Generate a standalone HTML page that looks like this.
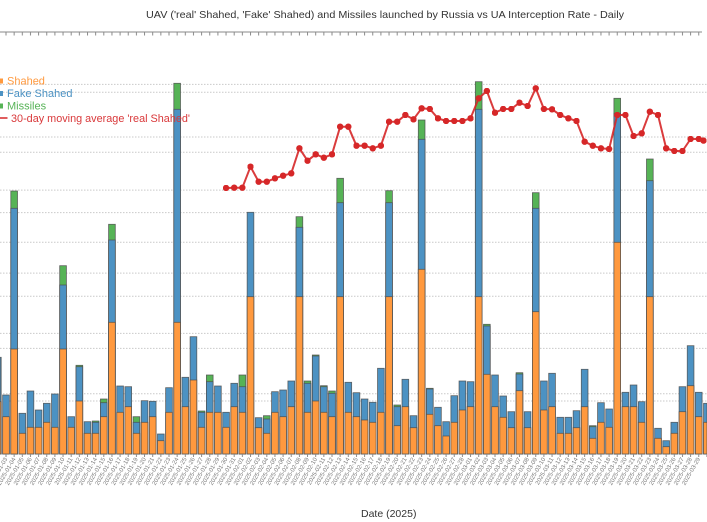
<!DOCTYPE html>
<html><head><meta charset="utf-8"><style>
html,body{margin:0;padding:0;background:#fff;width:707px;height:522px;overflow:hidden}
svg{display:block}
text{font-family:"Liberation Sans",Arial,sans-serif}
.o{fill:#ff993e}.b{fill:#4c92c3}.g{fill:#56b356}
.bars rect{stroke:#4d4d4d;stroke-width:.8;stroke-opacity:.85}
.lbl text{font-size:6px;fill:#7a7a7a;text-anchor:end}
</style></head><body>
<svg width="707" height="522" viewBox="0 0 707 522" xmlns="http://www.w3.org/2000/svg">
<defs>
<pattern id="tk" x="5.5" y="0" width="8.15" height="10" patternUnits="userSpaceOnUse"><rect x="0" y="0" width="1" height="10" fill="#8a8a8a"/></pattern>
<marker id="dot" viewBox="0 0 10 10" refX="5" refY="5" markerWidth="6.4" markerHeight="6.4" markerUnits="userSpaceOnUse"><circle cx="5" cy="5" r="5" fill="#d62728"/></marker>
</defs>

<text x="146" y="18" font-size="10.5" fill="#333" textLength="478" lengthAdjust="spacingAndGlyphs">UAV ('real' Shahed, 'Fake' Shahed) and Missiles launched by Russia vs UA Interception Rate - Daily</text>

<line x1="0" y1="32" x2="702" y2="32" stroke="#8a8a8a" stroke-width="1"/>
<rect x="0" y="32" width="702" height="3.5" fill="url(#tk)"/>

<g stroke="#c9c9c9" stroke-width="1" stroke-dasharray="1.5 1.5">
<line x1="0" x2="707" y1="393.7" y2="393.7"/>
<line x1="0" x2="707" y1="333.4" y2="333.4"/>
<line x1="0" x2="707" y1="273.1" y2="273.1"/>
<line x1="0" x2="707" y1="212.6" y2="212.6"/>
<line x1="0" x2="707" y1="152.2" y2="152.2"/>
<line x1="0" x2="707" y1="92.3" y2="92.3"/>
<line x1="0" x2="707" y1="401" y2="401"/>
<line x1="0" x2="707" y1="348.4" y2="348.4"/>
<line x1="0" x2="707" y1="296.2" y2="296.2"/>
<line x1="0" x2="707" y1="242.3" y2="242.3"/>
<line x1="0" x2="707" y1="190.1" y2="190.1"/>
<line x1="0" x2="707" y1="137" y2="137"/>
<line x1="0" x2="707" y1="84.4" y2="84.4"/>
</g>

<g class="bars">
<rect class="b" x="0" y="357.3" width="1.2" height="96.7"/><rect class="o" x="0" y="401.7" width="1.2" height="52.3"/>
<rect class="b" x="2.65" y="395" width="6.7" height="59"/><rect class="o" x="2.65" y="416.7" width="6.7" height="37.3"/>
<rect class="g" x="10.8" y="191" width="6.7" height="263"/><rect class="b" x="10.8" y="208.3" width="6.7" height="245.7"/><rect class="o" x="10.8" y="349" width="6.7" height="105"/>
<rect class="b" x="18.95" y="413.3" width="6.7" height="40.7"/><rect class="o" x="18.95" y="433.3" width="6.7" height="20.7"/>
<rect class="b" x="27.1" y="391" width="6.7" height="63"/><rect class="o" x="27.1" y="427.3" width="6.7" height="26.7"/>
<rect class="b" x="35.25" y="410" width="6.7" height="44"/><rect class="o" x="35.25" y="427.3" width="6.7" height="26.7"/>
<rect class="b" x="43.4" y="403.3" width="6.7" height="50.7"/><rect class="o" x="43.4" y="422.3" width="6.7" height="31.7"/>
<rect class="b" x="51.55" y="394" width="6.7" height="60"/><rect class="o" x="51.55" y="427.3" width="6.7" height="26.7"/>
<rect class="g" x="59.7" y="265.7" width="6.7" height="188.3"/><rect class="b" x="59.7" y="285" width="6.7" height="169"/><rect class="o" x="59.7" y="349" width="6.7" height="105"/>
<rect class="b" x="67.85" y="416.7" width="6.7" height="37.3"/><rect class="o" x="67.85" y="427.3" width="6.7" height="26.7"/>
<rect class="g" x="76" y="365.3" width="6.7" height="88.7"/><rect class="b" x="76" y="366.7" width="6.7" height="87.3"/><rect class="o" x="76" y="401" width="6.7" height="53"/>
<rect class="b" x="84.15" y="421.7" width="6.7" height="32.3"/><rect class="o" x="84.15" y="433.3" width="6.7" height="20.7"/>
<rect class="g" x="92.3" y="421" width="6.7" height="33"/><rect class="b" x="92.3" y="422.3" width="6.7" height="31.7"/><rect class="o" x="92.3" y="433.3" width="6.7" height="20.7"/>
<rect class="g" x="100.45" y="399" width="6.7" height="55"/><rect class="b" x="100.45" y="402.7" width="6.7" height="51.3"/><rect class="o" x="100.45" y="416.7" width="6.7" height="37.3"/>
<rect class="g" x="108.6" y="224.3" width="6.7" height="229.7"/><rect class="b" x="108.6" y="240" width="6.7" height="214"/><rect class="o" x="108.6" y="322.3" width="6.7" height="131.7"/>
<rect class="b" x="116.75" y="386" width="6.7" height="68"/><rect class="o" x="116.75" y="412.3" width="6.7" height="41.7"/>
<rect class="b" x="124.9" y="386.7" width="6.7" height="67.3"/><rect class="o" x="124.9" y="406.7" width="6.7" height="47.3"/>
<rect class="g" x="133.05" y="416.7" width="6.7" height="37.3"/><rect class="b" x="133.05" y="422.3" width="6.7" height="31.7"/><rect class="o" x="133.05" y="433.3" width="6.7" height="20.7"/>
<rect class="b" x="141.2" y="400.7" width="6.7" height="53.3"/><rect class="o" x="141.2" y="422.3" width="6.7" height="31.7"/>
<rect class="b" x="149.35" y="401.3" width="6.7" height="52.7"/><rect class="o" x="149.35" y="416.7" width="6.7" height="37.3"/>
<rect class="b" x="157.5" y="434" width="6.7" height="20"/><rect class="o" x="157.5" y="440.7" width="6.7" height="13.3"/>
<rect class="b" x="165.65" y="387.7" width="6.7" height="66.3"/><rect class="o" x="165.65" y="412.3" width="6.7" height="41.7"/>
<rect class="g" x="173.8" y="83.3" width="6.7" height="370.7"/><rect class="b" x="173.8" y="109.3" width="6.7" height="344.7"/><rect class="o" x="173.8" y="322.3" width="6.7" height="131.7"/>
<rect class="b" x="181.95" y="377.3" width="6.7" height="76.7"/><rect class="o" x="181.95" y="406.7" width="6.7" height="47.3"/>
<rect class="b" x="190.1" y="336.7" width="6.7" height="117.3"/><rect class="o" x="190.1" y="380" width="6.7" height="74"/>
<rect class="g" x="198.25" y="411" width="6.7" height="43"/><rect class="b" x="198.25" y="412.3" width="6.7" height="41.7"/><rect class="o" x="198.25" y="427.3" width="6.7" height="26.7"/>
<rect class="g" x="206.4" y="375" width="6.7" height="79"/><rect class="b" x="206.4" y="381.7" width="6.7" height="72.3"/><rect class="o" x="206.4" y="412.3" width="6.7" height="41.7"/>
<rect class="b" x="214.55" y="386" width="6.7" height="68"/><rect class="o" x="214.55" y="412.3" width="6.7" height="41.7"/>
<rect class="b" x="222.7" y="412.3" width="6.7" height="41.7"/><rect class="o" x="222.7" y="427.3" width="6.7" height="26.7"/>
<rect class="b" x="230.85" y="383.3" width="6.7" height="70.7"/><rect class="o" x="230.85" y="406.7" width="6.7" height="47.3"/>
<rect class="g" x="239" y="375" width="6.7" height="79"/><rect class="b" x="239" y="386.7" width="6.7" height="67.3"/><rect class="o" x="239" y="412.3" width="6.7" height="41.7"/>
<rect class="b" x="247.15" y="212.3" width="6.7" height="241.7"/><rect class="o" x="247.15" y="296.7" width="6.7" height="157.3"/>
<rect class="b" x="255.3" y="417.7" width="6.7" height="36.3"/><rect class="o" x="255.3" y="427.7" width="6.7" height="26.3"/>
<rect class="g" x="263.45" y="415.7" width="6.7" height="38.3"/><rect class="b" x="263.45" y="419" width="6.7" height="35"/><rect class="o" x="263.45" y="433.3" width="6.7" height="20.7"/>
<rect class="b" x="271.6" y="391.7" width="6.7" height="62.3"/><rect class="o" x="271.6" y="412.3" width="6.7" height="41.7"/>
<rect class="b" x="279.75" y="390" width="6.7" height="64"/><rect class="o" x="279.75" y="416.7" width="6.7" height="37.3"/>
<rect class="b" x="287.9" y="381" width="6.7" height="73"/><rect class="o" x="287.9" y="406.7" width="6.7" height="47.3"/>
<rect class="g" x="296.05" y="216.7" width="6.7" height="237.3"/><rect class="b" x="296.05" y="227.3" width="6.7" height="226.7"/><rect class="o" x="296.05" y="296.7" width="6.7" height="157.3"/>
<rect class="g" x="304.2" y="381" width="6.7" height="73"/><rect class="b" x="304.2" y="383.3" width="6.7" height="70.7"/><rect class="o" x="304.2" y="412.3" width="6.7" height="41.7"/>
<rect class="g" x="312.35" y="355" width="6.7" height="99"/><rect class="b" x="312.35" y="356" width="6.7" height="98"/><rect class="o" x="312.35" y="401" width="6.7" height="53"/>
<rect class="g" x="320.5" y="385.7" width="6.7" height="68.3"/><rect class="b" x="320.5" y="386.7" width="6.7" height="67.3"/><rect class="o" x="320.5" y="412.3" width="6.7" height="41.7"/>
<rect class="g" x="328.65" y="391" width="6.7" height="63"/><rect class="b" x="328.65" y="393.3" width="6.7" height="60.7"/><rect class="o" x="328.65" y="416.7" width="6.7" height="37.3"/>
<rect class="g" x="336.8" y="178.3" width="6.7" height="275.7"/><rect class="b" x="336.8" y="202.7" width="6.7" height="251.3"/><rect class="o" x="336.8" y="296.7" width="6.7" height="157.3"/>
<rect class="b" x="344.95" y="382.3" width="6.7" height="71.7"/><rect class="o" x="344.95" y="412.3" width="6.7" height="41.7"/>
<rect class="b" x="353.1" y="392.7" width="6.7" height="61.3"/><rect class="o" x="353.1" y="416.7" width="6.7" height="37.3"/>
<rect class="b" x="361.25" y="399" width="6.7" height="55"/><rect class="o" x="361.25" y="420" width="6.7" height="34"/>
<rect class="b" x="369.4" y="402.3" width="6.7" height="51.7"/><rect class="o" x="369.4" y="422.3" width="6.7" height="31.7"/>
<rect class="b" x="377.55" y="368.3" width="6.7" height="85.7"/><rect class="o" x="377.55" y="412.3" width="6.7" height="41.7"/>
<rect class="g" x="385.7" y="190.7" width="6.7" height="263.3"/><rect class="b" x="385.7" y="202.7" width="6.7" height="251.3"/><rect class="o" x="385.7" y="296.7" width="6.7" height="157.3"/>
<rect class="g" x="393.85" y="405" width="6.7" height="49"/><rect class="b" x="393.85" y="406.7" width="6.7" height="47.3"/><rect class="o" x="393.85" y="425.7" width="6.7" height="28.3"/>
<rect class="b" x="402" y="379.3" width="6.7" height="74.7"/><rect class="o" x="402" y="406.7" width="6.7" height="47.3"/>
<rect class="b" x="410.15" y="415.7" width="6.7" height="38.3"/><rect class="o" x="410.15" y="427.7" width="6.7" height="26.3"/>
<rect class="g" x="418.3" y="120" width="6.7" height="334"/><rect class="b" x="418.3" y="139.3" width="6.7" height="314.7"/><rect class="o" x="418.3" y="269.3" width="6.7" height="184.7"/>
<rect class="g" x="426.45" y="388.3" width="6.7" height="65.7"/><rect class="b" x="426.45" y="389" width="6.7" height="65"/><rect class="o" x="426.45" y="414.3" width="6.7" height="39.7"/>
<rect class="b" x="434.6" y="407.3" width="6.7" height="46.7"/><rect class="o" x="434.6" y="425.7" width="6.7" height="28.3"/>
<rect class="b" x="442.75" y="421.7" width="6.7" height="32.3"/><rect class="o" x="442.75" y="436" width="6.7" height="18"/>
<rect class="b" x="450.9" y="395.7" width="6.7" height="58.3"/><rect class="o" x="450.9" y="422.3" width="6.7" height="31.7"/>
<rect class="b" x="459.05" y="381" width="6.7" height="73"/><rect class="o" x="459.05" y="410" width="6.7" height="44"/>
<rect class="b" x="467.2" y="381.7" width="6.7" height="72.3"/><rect class="o" x="467.2" y="406.7" width="6.7" height="47.3"/>
<rect class="g" x="475.35" y="81.7" width="6.7" height="372.3"/><rect class="b" x="475.35" y="109.3" width="6.7" height="344.7"/><rect class="o" x="475.35" y="296.7" width="6.7" height="157.3"/>
<rect class="g" x="483.5" y="324.3" width="6.7" height="129.7"/><rect class="b" x="483.5" y="326" width="6.7" height="128"/><rect class="o" x="483.5" y="374.3" width="6.7" height="79.7"/>
<rect class="b" x="491.65" y="375" width="6.7" height="79"/><rect class="o" x="491.65" y="406.7" width="6.7" height="47.3"/>
<rect class="b" x="499.8" y="396" width="6.7" height="58"/><rect class="o" x="499.8" y="417.3" width="6.7" height="36.7"/>
<rect class="b" x="507.95" y="411.7" width="6.7" height="42.3"/><rect class="o" x="507.95" y="427.7" width="6.7" height="26.3"/>
<rect class="g" x="516.1" y="372.7" width="6.7" height="81.3"/><rect class="b" x="516.1" y="374" width="6.7" height="80"/><rect class="o" x="516.1" y="390.7" width="6.7" height="63.3"/>
<rect class="b" x="524.25" y="411.7" width="6.7" height="42.3"/><rect class="o" x="524.25" y="427.7" width="6.7" height="26.3"/>
<rect class="g" x="532.4" y="192.7" width="6.7" height="261.3"/><rect class="b" x="532.4" y="208.3" width="6.7" height="245.7"/><rect class="o" x="532.4" y="311.7" width="6.7" height="142.3"/>
<rect class="b" x="540.55" y="381" width="6.7" height="73"/><rect class="o" x="540.55" y="410" width="6.7" height="44"/>
<rect class="b" x="548.7" y="373.3" width="6.7" height="80.7"/><rect class="o" x="548.7" y="406.7" width="6.7" height="47.3"/>
<rect class="b" x="556.85" y="417.3" width="6.7" height="36.7"/><rect class="o" x="556.85" y="433.3" width="6.7" height="20.7"/>
<rect class="b" x="565" y="417.3" width="6.7" height="36.7"/><rect class="o" x="565" y="433.3" width="6.7" height="20.7"/>
<rect class="b" x="573.15" y="410.7" width="6.7" height="43.3"/><rect class="o" x="573.15" y="427.7" width="6.7" height="26.3"/>
<rect class="b" x="581.3" y="369.3" width="6.7" height="84.7"/><rect class="o" x="581.3" y="406.7" width="6.7" height="47.3"/>
<rect class="g" x="589.45" y="425.7" width="6.7" height="28.3"/><rect class="b" x="589.45" y="426.7" width="6.7" height="27.3"/><rect class="o" x="589.45" y="438.3" width="6.7" height="15.7"/>
<rect class="b" x="597.6" y="402.7" width="6.7" height="51.3"/><rect class="o" x="597.6" y="422.3" width="6.7" height="31.7"/>
<rect class="b" x="605.75" y="409" width="6.7" height="45"/><rect class="o" x="605.75" y="427.3" width="6.7" height="26.7"/>
<rect class="g" x="613.9" y="98.3" width="6.7" height="355.7"/><rect class="b" x="613.9" y="113.3" width="6.7" height="340.7"/><rect class="o" x="613.9" y="242.3" width="6.7" height="211.7"/>
<rect class="b" x="622.05" y="392.3" width="6.7" height="61.7"/><rect class="o" x="622.05" y="406.7" width="6.7" height="47.3"/>
<rect class="b" x="630.2" y="385" width="6.7" height="69"/><rect class="o" x="630.2" y="406.7" width="6.7" height="47.3"/>
<rect class="b" x="638.35" y="401.7" width="6.7" height="52.3"/><rect class="o" x="638.35" y="422.3" width="6.7" height="31.7"/>
<rect class="g" x="646.5" y="159" width="6.7" height="295"/><rect class="b" x="646.5" y="180.7" width="6.7" height="273.3"/><rect class="o" x="646.5" y="296.7" width="6.7" height="157.3"/>
<rect class="b" x="654.65" y="428.3" width="6.7" height="25.7"/><rect class="o" x="654.65" y="438.3" width="6.7" height="15.7"/>
<rect class="b" x="662.8" y="440.7" width="6.7" height="13.3"/><rect class="o" x="662.8" y="446.7" width="6.7" height="7.3"/>
<rect class="b" x="670.95" y="422.3" width="6.7" height="31.7"/><rect class="o" x="670.95" y="433.3" width="6.7" height="20.7"/>
<rect class="b" x="679.1" y="386.7" width="6.7" height="67.3"/><rect class="o" x="679.1" y="411.7" width="6.7" height="42.3"/>
<rect class="b" x="687.25" y="345.7" width="6.7" height="108.3"/><rect class="o" x="687.25" y="385.7" width="6.7" height="68.3"/>
<rect class="b" x="695.4" y="392.3" width="6.7" height="61.7"/><rect class="o" x="695.4" y="416.7" width="6.7" height="37.3"/>
<rect class="b" x="703.55" y="403.3" width="3.45" height="50.7"/><rect class="o" x="703.55" y="422.3" width="3.45" height="31.7"/>
</g>

<rect x="0" y="454" width="707" height="3" fill="url(#tk)"/>

<polyline fill="none" stroke="#d62728" stroke-width="2" stroke-opacity="0.9" stroke-linejoin="round" marker-start="url(#dot)" marker-mid="url(#dot)" marker-end="url(#dot)"
points="226.05,188 234.2,187.7 242.35,187.7 250.5,166.7 258.65,181.7 266.8,181.7 274.95,178.3 283.1,175.7 291.25,173.3 299.4,148.3 307.55,160.7 315.7,154.3 323.85,157.7 332,154.3 340.15,126.7 348.3,126.7 356.45,145.7 364.6,145.7 372.75,148.3 380.9,145.7 389.05,121.7 397.2,121.7 405.35,115 413.5,119.3 421.65,108.3 429.8,109 437.95,118.3 446.1,121 454.25,121 462.4,121 470.55,118.3 478.7,98.3 486.85,91 495,112.7 503.15,109 511.3,109 519.45,102.7 527.6,106 535.75,88.3 543.9,109 552.05,109.3 560.2,115 568.35,118.3 576.5,121 584.65,141.7 592.8,145.7 600.95,148.3 609.1,149 617.25,115 625.4,115 633.55,136 641.7,133.3 649.85,111.7 658,115 666.15,148.3 674.3,151 682.45,151 690.6,139 698.75,139 703.5,140.6"/>

<rect x="0" y="78.5" width="3" height="5" fill="#ff993e"/>
<text x="7" y="84.5" font-size="11" fill="#ff993e">Shahed</text>
<rect x="0" y="91" width="3" height="5" fill="#4c92c3"/>
<text x="7" y="97" font-size="11" fill="#4c92c3">Fake Shahed</text>
<rect x="0" y="103.5" width="3" height="5" fill="#56b356"/>
<text x="7" y="109.5" font-size="11" fill="#56b356">Missiles</text>
<line x1="0" y1="118" x2="7.5" y2="118" stroke="#d62728" stroke-width="1.5"/>
<text x="11" y="122" font-size="11" fill="#d9383a" textLength="179" lengthAdjust="spacingAndGlyphs">30-day moving average 'real Shahed'</text>

<g class="lbl">
<text transform="translate(7.6,459) rotate(-60)">2025-01-03</text>
<text transform="translate(15.75,459) rotate(-60)">2025-01-04</text>
<text transform="translate(23.9,459) rotate(-60)">2025-01-05</text>
<text transform="translate(32.05,459) rotate(-60)">2025-01-06</text>
<text transform="translate(40.2,459) rotate(-60)">2025-01-07</text>
<text transform="translate(48.35,459) rotate(-60)">2025-01-08</text>
<text transform="translate(56.5,459) rotate(-60)">2025-01-09</text>
<text transform="translate(64.65,459) rotate(-60)">2025-01-10</text>
<text transform="translate(72.8,459) rotate(-60)">2025-01-11</text>
<text transform="translate(80.95,459) rotate(-60)">2025-01-12</text>
<text transform="translate(89.1,459) rotate(-60)">2025-01-13</text>
<text transform="translate(97.25,459) rotate(-60)">2025-01-14</text>
<text transform="translate(105.4,459) rotate(-60)">2025-01-15</text>
<text transform="translate(113.55,459) rotate(-60)">2025-01-16</text>
<text transform="translate(121.7,459) rotate(-60)">2025-01-17</text>
<text transform="translate(129.85,459) rotate(-60)">2025-01-18</text>
<text transform="translate(138,459) rotate(-60)">2025-01-19</text>
<text transform="translate(146.15,459) rotate(-60)">2025-01-20</text>
<text transform="translate(154.3,459) rotate(-60)">2025-01-21</text>
<text transform="translate(162.45,459) rotate(-60)">2025-01-22</text>
<text transform="translate(170.6,459) rotate(-60)">2025-01-23</text>
<text transform="translate(178.75,459) rotate(-60)">2025-01-24</text>
<text transform="translate(186.9,459) rotate(-60)">2025-01-25</text>
<text transform="translate(195.05,459) rotate(-60)">2025-01-26</text>
<text transform="translate(203.2,459) rotate(-60)">2025-01-27</text>
<text transform="translate(211.35,459) rotate(-60)">2025-01-28</text>
<text transform="translate(219.5,459) rotate(-60)">2025-01-29</text>
<text transform="translate(227.65,459) rotate(-60)">2025-01-30</text>
<text transform="translate(235.8,459) rotate(-60)">2025-01-31</text>
<text transform="translate(243.95,459) rotate(-60)">2025-02-01</text>
<text transform="translate(252.1,459) rotate(-60)">2025-02-02</text>
<text transform="translate(260.25,459) rotate(-60)">2025-02-03</text>
<text transform="translate(268.4,459) rotate(-60)">2025-02-04</text>
<text transform="translate(276.55,459) rotate(-60)">2025-02-05</text>
<text transform="translate(284.7,459) rotate(-60)">2025-02-06</text>
<text transform="translate(292.85,459) rotate(-60)">2025-02-07</text>
<text transform="translate(301,459) rotate(-60)">2025-02-08</text>
<text transform="translate(309.15,459) rotate(-60)">2025-02-09</text>
<text transform="translate(317.3,459) rotate(-60)">2025-02-10</text>
<text transform="translate(325.45,459) rotate(-60)">2025-02-11</text>
<text transform="translate(333.6,459) rotate(-60)">2025-02-12</text>
<text transform="translate(341.75,459) rotate(-60)">2025-02-13</text>
<text transform="translate(349.9,459) rotate(-60)">2025-02-14</text>
<text transform="translate(358.05,459) rotate(-60)">2025-02-15</text>
<text transform="translate(366.2,459) rotate(-60)">2025-02-16</text>
<text transform="translate(374.35,459) rotate(-60)">2025-02-17</text>
<text transform="translate(382.5,459) rotate(-60)">2025-02-18</text>
<text transform="translate(390.65,459) rotate(-60)">2025-02-19</text>
<text transform="translate(398.8,459) rotate(-60)">2025-02-20</text>
<text transform="translate(406.95,459) rotate(-60)">2025-02-21</text>
<text transform="translate(415.1,459) rotate(-60)">2025-02-22</text>
<text transform="translate(423.25,459) rotate(-60)">2025-02-23</text>
<text transform="translate(431.4,459) rotate(-60)">2025-02-24</text>
<text transform="translate(439.55,459) rotate(-60)">2025-02-25</text>
<text transform="translate(447.7,459) rotate(-60)">2025-02-26</text>
<text transform="translate(455.85,459) rotate(-60)">2025-02-27</text>
<text transform="translate(464,459) rotate(-60)">2025-02-28</text>
<text transform="translate(472.15,459) rotate(-60)">2025-03-01</text>
<text transform="translate(480.3,459) rotate(-60)">2025-03-02</text>
<text transform="translate(488.45,459) rotate(-60)">2025-03-03</text>
<text transform="translate(496.6,459) rotate(-60)">2025-03-04</text>
<text transform="translate(504.75,459) rotate(-60)">2025-03-05</text>
<text transform="translate(512.9,459) rotate(-60)">2025-03-06</text>
<text transform="translate(521.05,459) rotate(-60)">2025-03-07</text>
<text transform="translate(529.2,459) rotate(-60)">2025-03-08</text>
<text transform="translate(537.35,459) rotate(-60)">2025-03-09</text>
<text transform="translate(545.5,459) rotate(-60)">2025-03-10</text>
<text transform="translate(553.65,459) rotate(-60)">2025-03-11</text>
<text transform="translate(561.8,459) rotate(-60)">2025-03-12</text>
<text transform="translate(569.95,459) rotate(-60)">2025-03-13</text>
<text transform="translate(578.1,459) rotate(-60)">2025-03-14</text>
<text transform="translate(586.25,459) rotate(-60)">2025-03-15</text>
<text transform="translate(594.4,459) rotate(-60)">2025-03-16</text>
<text transform="translate(602.55,459) rotate(-60)">2025-03-17</text>
<text transform="translate(610.7,459) rotate(-60)">2025-03-18</text>
<text transform="translate(618.85,459) rotate(-60)">2025-03-19</text>
<text transform="translate(627,459) rotate(-60)">2025-03-20</text>
<text transform="translate(635.15,459) rotate(-60)">2025-03-21</text>
<text transform="translate(643.3,459) rotate(-60)">2025-03-22</text>
<text transform="translate(651.45,459) rotate(-60)">2025-03-23</text>
<text transform="translate(659.6,459) rotate(-60)">2025-03-24</text>
<text transform="translate(667.75,459) rotate(-60)">2025-03-25</text>
<text transform="translate(675.9,459) rotate(-60)">2025-03-26</text>
<text transform="translate(684.05,459) rotate(-60)">2025-03-27</text>
<text transform="translate(692.2,459) rotate(-60)">2025-03-28</text>
<text transform="translate(700.35,459) rotate(-60)">2025-03-29</text>
</g>

<text x="361" y="517" font-size="10.5" fill="#333">Date (2025)</text>
</svg>
</body></html>
